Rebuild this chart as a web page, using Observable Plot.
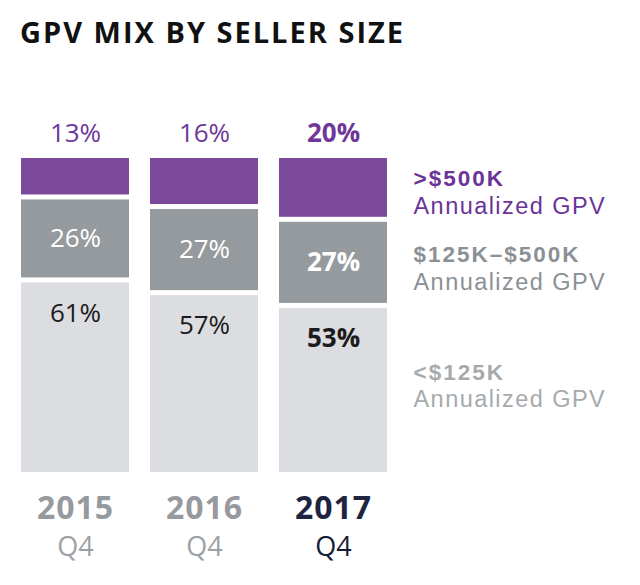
<!DOCTYPE html>
<html>
<head>
<meta charset="utf-8">
<script src="https://cdn.jsdelivr.net/npm/d3@7"></script>
<script src="https://cdn.jsdelivr.net/npm/@observablehq/plot@0.6"></script>
<style>
  body { margin: 0; background: #fff; }
  #title {
    box-sizing: border-box;
    height: 60px;
    padding: 17px 0 0 20px;
    font-family: "Open Sans", Lato, sans-serif;
    font-weight: 700;
    font-size: 29px;
    line-height: 29px;
    letter-spacing: 2px;
    color: #111;
  }
  #chart svg { display: block; }
</style>
</head>
<body>
<div id="title">GPV MIX BY SELLER SIZE</div>
<div id="chart"></div>
<script>
// ---- data ----
const years = ["2015", "2016", "2017"];
const quarterLabel = "Q4";
const over500 = [13, 16, 20];     // >$500K
const mid = [26, 27, 27];         // $125K–$500K
const under125 = [61, 57, 53];    // <$125K
const segmentNames = [">$500K", "$125K–$500K", "<$125K"];
const legendSub = "Annualized GPV";
const highlightYear = "2017";

// ---- styles ----
const barColors = ["#7c4a9b", "#959a9e", "#dcdde0"];
const legendColors = ["#6b3398", "#8b9095", "#a6aaad"];
const legendShift = [3, 4, -6];
const font = "'Open Sans', Lato, sans-serif";
const legendFont = "'Liberation Sans', Arial, sans-serif";

// ---- tables ----
const rows = [];
years.forEach((year, i) => {
  rows.push({year, segment: segmentNames[2], value: under125[i]});
  rows.push({year, segment: segmentNames[1], value: mid[i]});
  rows.push({year, segment: segmentNames[0], value: over500[i]});
});
const perYear = years.map((year, i) => ({
  year, large: over500[i], mid: mid[i], small: under125[i], highlight: year === highlightYear
}));
const hi = perYear.find(d => d.highlight);
const legendRows = [
  {name: segmentNames[0], y: hi.small + hi.mid + hi.large / 2},
  {name: segmentNames[1], y: hi.small + hi.mid / 2},
  {name: segmentNames[2], y: hi.small / 2}
];
const pct = v => v + "%";

const yearMarks = [false, true].flatMap(h => {
  const data = perYear.filter(d => d.highlight === h);
  const w = h ? 700 : 400;
  return [
    Plot.text(data, {x: "year", frameAnchor: "top", lineAnchor: "middle", dy: -22.5, text: d => pct(d.large),
      fill: "#6e3799", fontSize: 26, fontWeight: w, fontFamily: font}),
    Plot.text(data, {x: "year", y: d => d.small + d.mid / 2, text: d => pct(d.mid),
      fill: "#ffffff", fontSize: 26, fontWeight: w, fontFamily: font}),
    Plot.text(data, {x: "year", y: "small", dy: 33, text: d => pct(d.small),
      fill: "#1b1b1b", fontSize: 26, fontWeight: w, fontFamily: font}),
    Plot.text(data, {x: "year", frameAnchor: "bottom", lineAnchor: "middle", dy: 33.5, text: "year",
      fill: h ? "#1f2541" : "#96999d", fontSize: 32, fontWeight: 700, fontFamily: font}),
    Plot.text(data, {x: "year", frameAnchor: "bottom", lineAnchor: "middle", dy: 72.5, text: () => quarterLabel,
      fill: h ? "#171c35" : "#9ea1a4", fontSize: 27, fontWeight: 400, fontFamily: font})
  ];
});

// each legend entry: one two-line text (bold first line styled after render)
const legendMarks = legendRows.map((d, i) =>
  Plot.text([d], {y: "y", frameAnchor: "right", lineAnchor: "middle", dx: 26, dy: legendShift[i],
    text: r => r.name + "\n" + legendSub, textAnchor: "start", lineHeight: 1.17,
    fill: legendColors[i], fontSize: 23.5, fontWeight: 400, fontFamily: legendFont})
);

const chart = Plot.plot({
  width: 640,
  height: 525,
  marginTop: 95.5,
  marginBottom: 110.5,
  marginLeft: 20,
  marginRight: 253,
  x: {domain: years, paddingInner: 0.166, paddingOuter: 0, axis: null},
  y: {domain: [0, 100], axis: null},
  color: {domain: segmentNames, range: barColors},
  style: {fontFamily: font, background: "#fff"},
  marks: [
    Plot.barY(rows, {
      x: "year", y: "value", fill: "segment",
      order: [segmentNames[2], segmentNames[1], segmentNames[0]],
      insetTop: 2.5, insetBottom: 2.5
    }),
    ...yearMarks,
    ...legendMarks
  ]
});

// style legend: bold, tracked first line; tracked second line
d3.select(chart).selectAll("text").each(function () {
  const spans = this.querySelectorAll("tspan");
  if (spans.length === 2 && segmentNames.includes(spans[0].textContent)) {
    this.style.letterSpacing = "1.45px";
    spans[0].style.fontWeight = "700";
    spans[0].style.fontSize = "22.5px";
    spans[0].style.letterSpacing = "2px";
  }
});
d3.select(chart).selectAll("text").each(function () {
  if (years.includes(this.textContent)) this.style.letterSpacing = "1px";
});

document.getElementById("chart").appendChild(chart);
</script>
</body>
</html>
